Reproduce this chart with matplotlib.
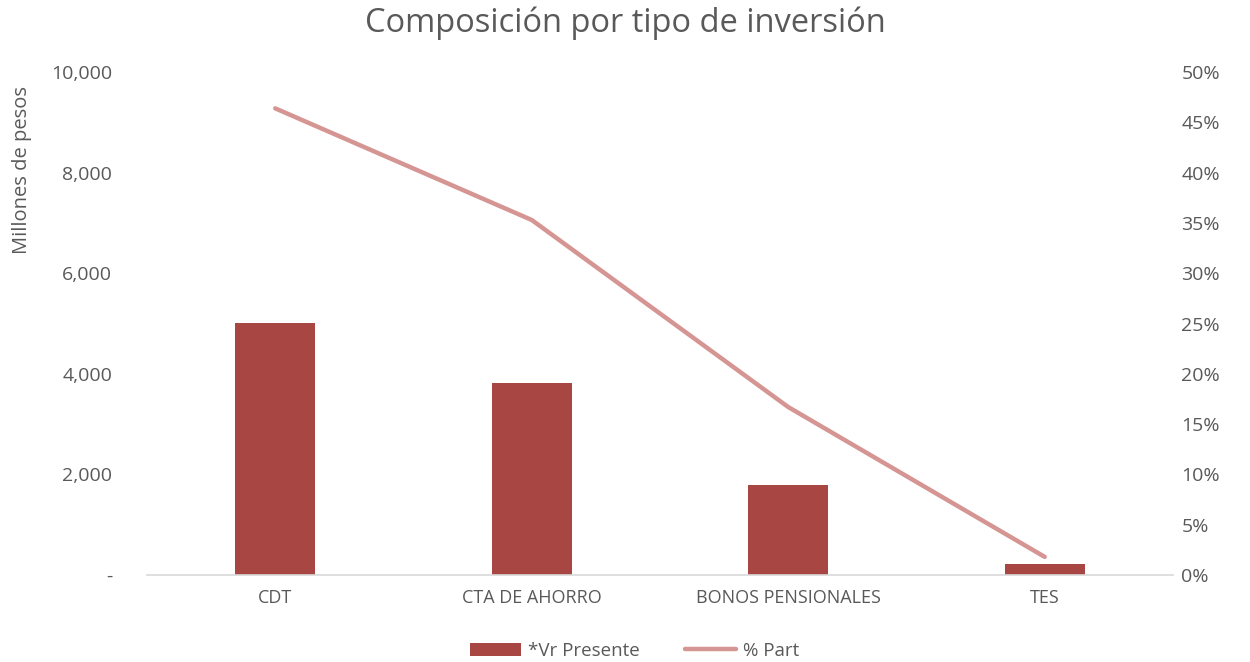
import matplotlib.pyplot as plt
from matplotlib.ticker import FuncFormatter

categorias = ["CDT", "CTA DE AHORRO", "BONOS PENSIONALES", "TES"]
vr_presente = [5010, 3817, 1789, 219]
pct_part = [46.4, 35.3, 16.7, 1.8]

plt.rcParams['font.family'] = ['Open Sans', 'DejaVu Sans']
gris = '#595959'

fig = plt.figure(figsize=(12.5, 6.62), dpi=100)
ax = fig.add_axes([0.1176, 0.1314, 0.8208, 0.7596])
ax2 = ax.twinx()

x = range(len(categorias))
barras = ax.bar(x, vr_presente, width=0.31, color='#A84644', label='*Vr Presente')
linea, = ax2.plot(x, pct_part, color='#D59593', lw=3.2, solid_capstyle='round', label='% Part')

ax.set_xlim(-0.5, len(categorias) - 0.5)
ax.set_ylim(0, 10000)
ax2.set_ylim(0, 50)
ax.set_yticks(range(0, 10001, 2000))
ax2.set_yticks(range(0, 51, 5))
ax.yaxis.set_major_formatter(FuncFormatter(lambda v, p: '-' if v == 0 else f'{int(v):,}'))
ax2.yaxis.set_major_formatter(FuncFormatter(lambda v, p: f'{int(v)}%'))
ax.set_xticks(list(x))
ax.set_xticklabels(categorias)

for a in (ax, ax2):
    for s in ['top', 'left', 'right']:
        a.spines[s].set_visible(False)
    a.spines['bottom'].set_visible(False)
    a.tick_params(length=0, labelsize=14, colors=gris)
ax.spines['bottom'].set_visible(True)
ax.spines['bottom'].set_color('#D9D9D9')
ax.spines['bottom'].set_linewidth(1.2)
ax.tick_params(axis='x', labelsize=13, pad=10)
ax.tick_params(axis='y', pad=25)
ax2.tick_params(axis='y', pad=6)

ax.set_ylabel('Millones de pesos', fontsize=14.5, color=gris, labelpad=2)
ax.yaxis.set_label_coords(-0.112, 0.805)
fig.suptitle('Composición por tipo de inversión', fontsize=23.5, color=gris, y=0.99)

fig.legend([barras, linea], ['*Vr Presente', '% Part'], loc='lower center',
           bbox_to_anchor=(0.508, -0.022), ncol=2, frameon=False, fontsize=13.5,
           labelcolor=gris, handlelength=2.7, columnspacing=2.4, handletextpad=0.4)

fig.savefig('out.png', dpi=100)
